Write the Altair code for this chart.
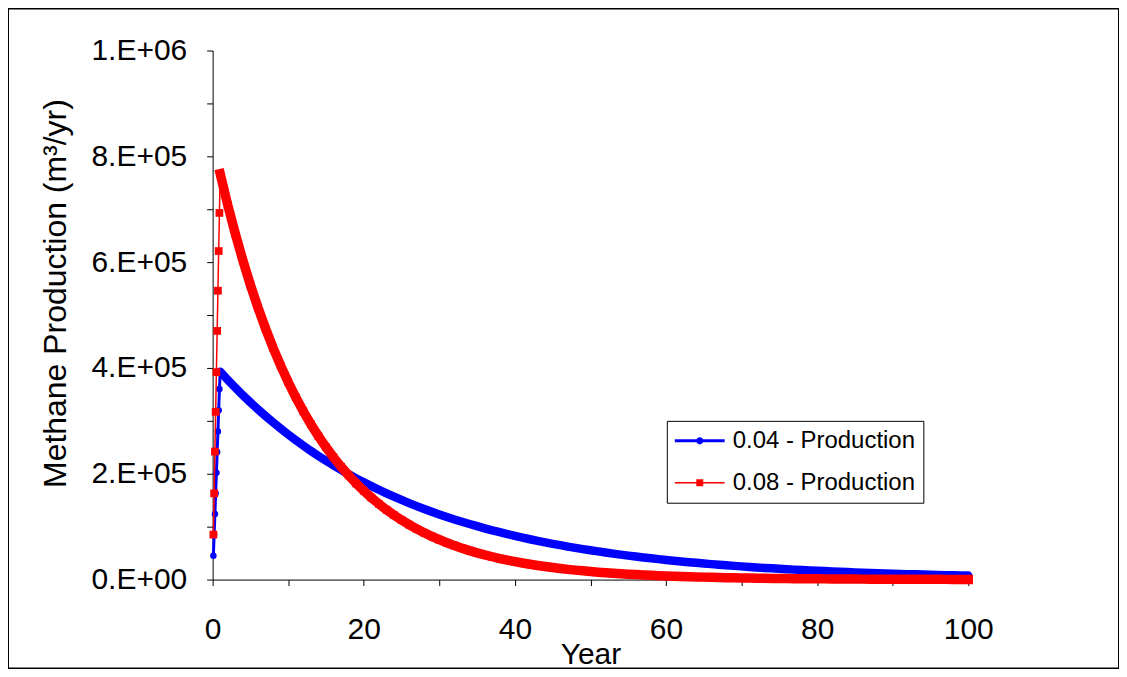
import altair as alt
import pandas as pd

# ---------------- data ----------------
series_names = ["0.04 - Production", "0.08 - Production"]
series_colors = ["#0000FF", "#FF0000"]

ramp_years = [0.1, 0.2, 0.3, 0.4, 0.5, 0.6, 0.7, 0.8, 0.9]
ramp_004 = [45000, 85000, 124000, 163000, 202000, 241000, 280000, 320000, 360000]
ramp_008 = [85000, 163000, 242000, 317000, 392000, 470000, 546000, 621000, 693000]

decay_years = list(range(1, 101))
decay_004 = [
    393000, 377600, 362800, 348600, 334900, 321800, 309200, 297100, 285400, 274200,
    263500, 253200, 243200, 233700, 224500, 215700, 207300, 199100, 191300, 183800,
    176600, 169700, 163000, 156600, 150500, 144600, 138900, 133500, 128200, 123200,
    118400, 113700, 109300, 105000, 100900, 96900, 93100, 89500, 86000, 82600,
    79400, 76200, 73300, 70400, 67600, 65000, 62400, 60000, 57600, 55400,
    53200, 51100, 49100, 47200, 45300, 43500, 41800, 40200, 38600, 37100,
    35700, 34300, 32900, 31600, 30400, 29200, 28000, 26900, 25900, 24900,
    23900, 23000, 22000, 21200, 20300, 19500, 18800, 18000, 17300, 16700,
    16000, 15400, 14800, 14200, 13600, 13100, 12600, 12100, 11600, 11200,
    10700, 10300, 9900, 9500, 9100, 8800, 8400, 8100, 7800, 7500,
]
decay_008 = [
    767000, 708000, 653600, 603300, 556900, 514100, 474600, 438100, 404400, 373300,
    344600, 318100, 293700, 271100, 250300, 231000, 213300, 196900, 181700, 167800,
    154900, 143000, 132000, 121800, 112500, 103800, 95800, 88500, 81700, 75400,
    69600, 64200, 59300, 54700, 50500, 46600, 43100, 39700, 36700, 33900,
    31300, 28900, 26600, 24600, 22700, 21000, 19300, 17900, 16500, 15200,
    14000, 13000, 12000, 11000, 10200, 9400, 8700, 8000, 7400, 6800,
    6300, 5800, 5400, 5000, 4600, 4200, 3900, 3600, 3300, 3100,
    2800, 2600, 2400, 2200, 2000, 1900, 1700, 1600, 1500, 1400,
    1300, 1200, 1100, 1000, 900, 840, 780, 720, 660, 610,
    570, 520, 480, 440, 410, 380, 350, 320, 300, 280,
]

x_tick_values = [0, 10, 20, 30, 40, 50, 60, 70, 80, 90, 100]
x_tick_labels = ["0", "", "20", "", "40", "", "60", "", "80", "", "100"]
y_tick_values = [0, 100000, 200000, 300000, 400000, 500000, 600000, 700000, 800000, 900000, 1000000]
y_tick_labels = ["0.E+00", "", "2.E+05", "", "4.E+05", "", "6.E+05", "", "8.E+05", "", "1.E+06"]

# ---------------- table ----------------
rows = []
for t, v in zip(ramp_years, ramp_004):
    rows.append({"year": t, "value": v, "series": series_names[0]})
for t, v in zip(decay_years, decay_004):
    rows.append({"year": t, "value": v, "series": series_names[0]})
for t, v in zip(ramp_years, ramp_008):
    rows.append({"year": t, "value": v, "series": series_names[1]})
for t, v in zip(decay_years, decay_008):
    rows.append({"year": t, "value": v, "series": series_names[1]})
df = pd.DataFrame(rows)

FONT = "Liberation Sans"
W, H = 1113, 661


def js_list(vals):
    return "[" + ",".join(repr(v) if isinstance(v, str) else str(v) for v in vals) + "]"


x_label_expr = f"{js_list(x_tick_labels)}[indexof({js_list(x_tick_values)}, datum.value)]"
y_label_expr = f"{js_list(y_tick_labels)}[indexof({js_list(y_tick_values)}, datum.value)]"

x_scale = alt.Scale(domain=[0, 100], range=[205, 962], nice=False, zero=False)
y_scale = alt.Scale(domain=[0, 1000000], range=[572, 42], nice=False, zero=False)
color_scale = alt.Scale(domain=series_names, range=series_colors)

x_axis = alt.Axis(
    values=x_tick_values, labelExpr=x_label_expr, offset=-(H - 572),
    grid=False, tickSize=6, tickColor="black", domainColor="black", domainWidth=1,
    labelFont=FONT, labelFontSize=30, labelColor="black", labelPadding=29,
    labelOverlap=False, labelFlush=False,
    title="Year", titleFont=FONT, titleFontSize=30, titleFontWeight="normal",
    titleColor="black", titleBaseline="top", titleY=60,
)
y_axis = alt.Axis(
    values=y_tick_values, labelExpr=y_label_expr, offset=-205,
    grid=False, tickSize=6, tickColor="black", domainColor="black", domainWidth=1,
    labelFont=FONT, labelFontSize=30, labelColor="black", labelPadding=20,
    labelOverlap=False, labelFlush=False,
    title="Methane Production (m³/yr)", titleFont=FONT, titleFontSize=32,
    titleFontWeight="normal", titleColor="black", titleX=-140, titleY=285,
)

base = alt.Chart(df).encode(
    x=alt.X("year:Q", scale=x_scale, axis=x_axis),
    y=alt.Y("value:Q", scale=y_scale, axis=y_axis),
)

blue = base.transform_filter(alt.datum.series == series_names[0])
red = base.transform_filter(alt.datum.series == series_names[1])

blue_band = blue.transform_filter(alt.datum.year >= 1).mark_line(
    color=series_colors[0], strokeWidth=8.5, strokeCap="round", strokeJoin="round")
blue_line = blue.mark_line(color=series_colors[0], strokeWidth=3)
blue_pts = blue.mark_point(shape="circle", filled=True, size=42, opacity=1, color=series_colors[0])

red_band = red.transform_filter(alt.datum.year >= 1).mark_line(
    color=series_colors[1], strokeWidth=9.5, strokeCap="square", strokeJoin="miter")
red_line = red.mark_line(color=series_colors[1], strokeWidth=1.5)
red_pts = red.mark_point(shape="square", filled=True, size=60, opacity=1, color=series_colors[1])

# legend-only layer (draws no marks, supplies the legend symbols)
# symbol size 576 -> path unit = 12 px
blue_sym = ("M-2.08,-0.125L2.08,-0.125L2.08,0.125L-2.08,0.125Z "
            "M0.3,0A0.3,0.3 0 1,1 -0.3,0A0.3,0.3 0 1,1 0.3,0Z")
red_sym = ("M-2.08,-0.0625L2.08,-0.0625L2.08,0.0625L-2.08,0.0625Z "
           "M-0.29,-0.29L0.29,-0.29L0.29,0.29L-0.29,0.29Z")
legend_def = alt.Legend(
    title=None, orient="none", legendX=660, legendY=413,
    symbolSize=576, symbolOffset=13, labelFont=FONT, labelFontSize=24, labelColor="black",
    labelLimit=400, labelOffset=21, strokeColor="black", fillColor="white",
    padding=8, rowPadding=18, symbolStrokeWidth=0,
)
legend_layer = base.transform_filter("false").mark_point(filled=True, opacity=1).encode(
    color=alt.Color("series:N", scale=color_scale, legend=legend_def),
    shape=alt.Shape("series:N", scale=alt.Scale(domain=series_names, range=[blue_sym, red_sym]),
                    legend=legend_def),
)

chart = alt.layer(
    legend_layer, blue_band, blue_line, blue_pts, red_band, red_line, red_pts
).properties(
    width=W, height=H, padding=0, background="white",
    autosize=alt.AutoSizeParams(type="none"),
).configure_view(stroke="black", strokeWidth=2)

chart.save("out.html", embed_options={"renderer": "svg", "actions": False})
